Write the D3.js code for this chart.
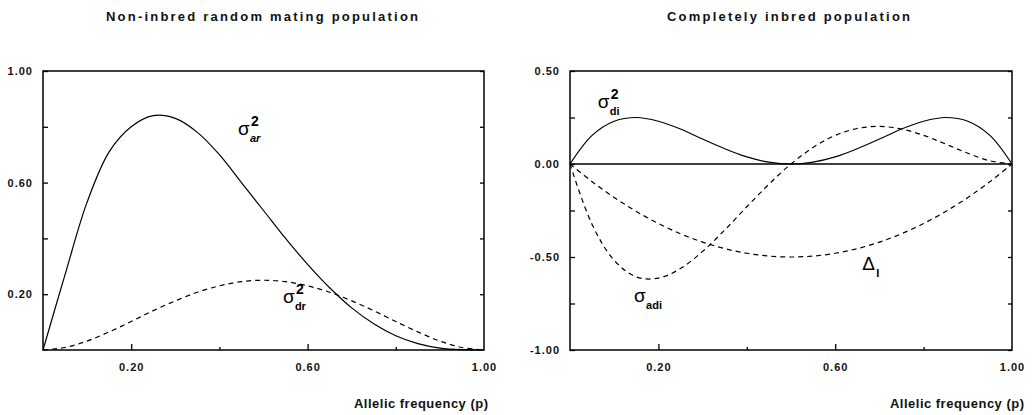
<!DOCTYPE html>
<html>
<head>
<meta charset="utf-8">
<script src="https://cdn.jsdelivr.net/npm/d3@7"></script>
<style>
  body { margin: 0; background: #fff; }
  svg { display: block; font-family: "Liberation Sans", Arial, sans-serif; }
  .frame { fill: none; stroke: #000; stroke-width: 1.5; }
  .axis path { display: none; }
  .axis line { stroke: #000; stroke-width: 1.3; }
  .axis text { font-size: 11px; font-weight: bold; fill: #111; letter-spacing: 1px; }
  .curve { fill: none; stroke: #000; stroke-width: 1.2; }
  .dash { stroke-dasharray: 5 4; }
  .title { font-size: 13px; font-weight: bold; fill: #111; }
  .xlab { font-size: 13px; font-weight: bold; fill: #111; }
</style>
</head>
<body>
<svg id="chart" width="1034" height="415"></svg>
<script>
// allele frequency grid
var pGrid = [0, 0.05, 0.1, 0.15, 0.2, 0.25, 0.3, 0.35, 0.4, 0.45, 0.5,
             0.55, 0.6, 0.65, 0.7, 0.75, 0.8, 0.85, 0.9, 0.95, 1];

// left panel: non-inbred
var sigmaAr = [0, 0.27, 0.53, 0.71, 0.80, 0.84, 0.83, 0.78, 0.70, 0.60, 0.50,
               0.40, 0.307, 0.223, 0.151, 0.094, 0.051, 0.023, 0.007, 0.001, 0];
var sigmaDr = [0, 0.009, 0.032, 0.065, 0.102, 0.141, 0.176, 0.207, 0.230, 0.245, 0.25,
               0.245, 0.230, 0.207, 0.176, 0.141, 0.102, 0.065, 0.032, 0.009, 0];

// right panel: completely inbred
var sigmaDi = [0, 0.154, 0.230, 0.250, 0.230, 0.188, 0.134, 0.082, 0.038, 0.010, 0,
               0.010, 0.038, 0.082, 0.134, 0.188, 0.230, 0.250, 0.230, 0.154, 0];
var sigmaAdi = [0, -0.325, -0.518, -0.607, -0.614, -0.562, -0.470, -0.355, -0.230, -0.109, 0,
                0.089, 0.154, 0.191, 0.202, 0.188, 0.154, 0.107, 0.058, 0.017, 0];
var deltaI = [0, -0.095, -0.18, -0.255, -0.32, -0.375, -0.42, -0.455, -0.48, -0.495, -0.5,
              -0.495, -0.48, -0.455, -0.42, -0.375, -0.32, -0.255, -0.18, -0.095, 0];

var xTicks = [0.2, 0.4, 0.6, 0.8];
var xLabels = [0.2, 0.6, 1.0];
var leftYTicks = [0.2, 0.4, 0.6, 0.8, 1.0];
var leftYLabels = [0.2, 0.6, 1.0];
var rightYTicks = [0.5, 0.25, 0, -0.25, -0.5, -0.75, -1.0];
var rightYLabels = [0.5, 0, -0.5, -1.0];

var svg = d3.select("#chart");

function fmt(v) { return v.toFixed(2); }

function panel(opt) {
    var x = d3.scaleLinear().domain([0, 1]).range([opt.x0, opt.x1]);
    var y = d3.scaleLinear().domain(opt.yDomain).range([350, 71]);
    var g = svg.append("g");

    // x axis (ticks inward + labels)
    g.append("g").attr("class", "axis")
        .attr("transform", "translate(0,350)")
        .call(d3.axisBottom(x).tickValues(xTicks.concat([1.0])).tickSize(-5).tickPadding(13)
            .tickFormat(d => xLabels.some(l => Math.abs(l - d) < 1e-9) ? fmt(d) : ""))
        .selectAll("line").attr("y2", d => (d == 0.2 || d == 0.6) ? -6 : (d == 1 ? 0 : -3));

    g.append("g").attr("class", "axis")
        .attr("transform", "translate(" + opt.x0 + ",0)")
        .call(d3.axisLeft(y).tickValues(opt.yTicks).tickSize(-5).tickPadding(10)
            .tickFormat(d => opt.yLabels.some(l => Math.abs(l - d) < 1e-9) ? fmt(d) : ""));

    // right side small ticks
    g.append("g").attr("class", "axis")
        .attr("transform", "translate(" + opt.x1 + ",0)")
        .call(d3.axisRight(y).tickValues(opt.yTicks).tickSize(-4).tickFormat(""));

    g.append("rect").attr("class", "frame")
        .attr("x", opt.x0).attr("y", 71)
        .attr("width", opt.x1 - opt.x0).attr("height", 279);

    var line = d3.line()
        .x((d, i) => x(pGrid[i]))
        .y(d => y(d))
        .curve(d3.curveCatmullRom.alpha(0.5));

    opt.series.forEach(s => {
        g.append("path").datum(s.values)
            .attr("class", "curve" + (s.dashed ? " dash" : ""))
            .attr("d", line);
    });

    if (opt.zeroLine) {
        g.append("line").attr("x1", opt.x0).attr("x2", opt.x1)
            .attr("y1", y(0)).attr("y2", y(0))
            .attr("stroke", "#000").attr("stroke-width", 1.5);
    }

    // curve labels
    opt.labels.forEach(l => {
        var lx = x(l.p), ly = y(l.v);
        g.append("text").attr("x", lx).attr("y", ly)
            .style("font-size", "19px").text(l.main);
        if (l.sup) {
            g.append("text").attr("x", lx + 13).attr("y", ly - 9)
                .style("font-size", "14px").style("font-weight", "bold").text(l.sup);
        }
        g.append("text").attr("x", lx + (l.main == "Δ" ? 14 : 12)).attr("y", ly + 7)
            .style("font-size", "11px").style("font-weight", "bold")
            .style("font-style", l.italic ? "italic" : "normal").text(l.sub);
    });

    svg.append("text").attr("class", "title")
        .attr("x", opt.titleX).attr("y", 21)
        .attr("textLength", opt.titleW).attr("lengthAdjust", "spacing")
        .text(opt.title);

    svg.append("text").attr("class", "xlab")
        .attr("x", opt.x1 + opt.xlabShift).attr("y", 408).attr("text-anchor", "end")
        .attr("textLength", 134).attr("lengthAdjust", "spacing")
        .text("Allelic frequency (p)");
}

panel({
    x0: 43, x1: 484, yDomain: [0, 1],
    yTicks: leftYTicks, yLabels: leftYLabels,
    series: [{ values: sigmaAr, dashed: false }, { values: sigmaDr, dashed: true }],
    labels: [
        { p: 0.442, v: 0.77, main: "σ", sup: "2", sub: "ar", italic: true },
        { p: 0.544, v: 0.17, main: "σ", sup: "2", sub: "dr" }
    ],
    title: "Non-inbred random mating population", titleX: 106, titleW: 312,
    xlabShift: 4
});

panel({
    x0: 570, x1: 1012, yDomain: [-1, 0.5],
    yTicks: rightYTicks, yLabels: rightYLabels,
    series: [{ values: sigmaDi, dashed: false }, { values: sigmaAdi, dashed: true },
             { values: deltaI, dashed: true }],
    zeroLine: true,
    labels: [
        { p: 0.063, v: 0.30, main: "σ", sup: "2", sub: "di" },
        { p: 0.145, v: -0.742, main: "σ", sub: "adi" },
        { p: 0.661, v: -0.57, main: "Δ", sub: "I" }
    ],
    title: "Completely inbred population", titleX: 667, titleW: 243,
    xlabShift: 12
});
</script>
</body>
</html>
